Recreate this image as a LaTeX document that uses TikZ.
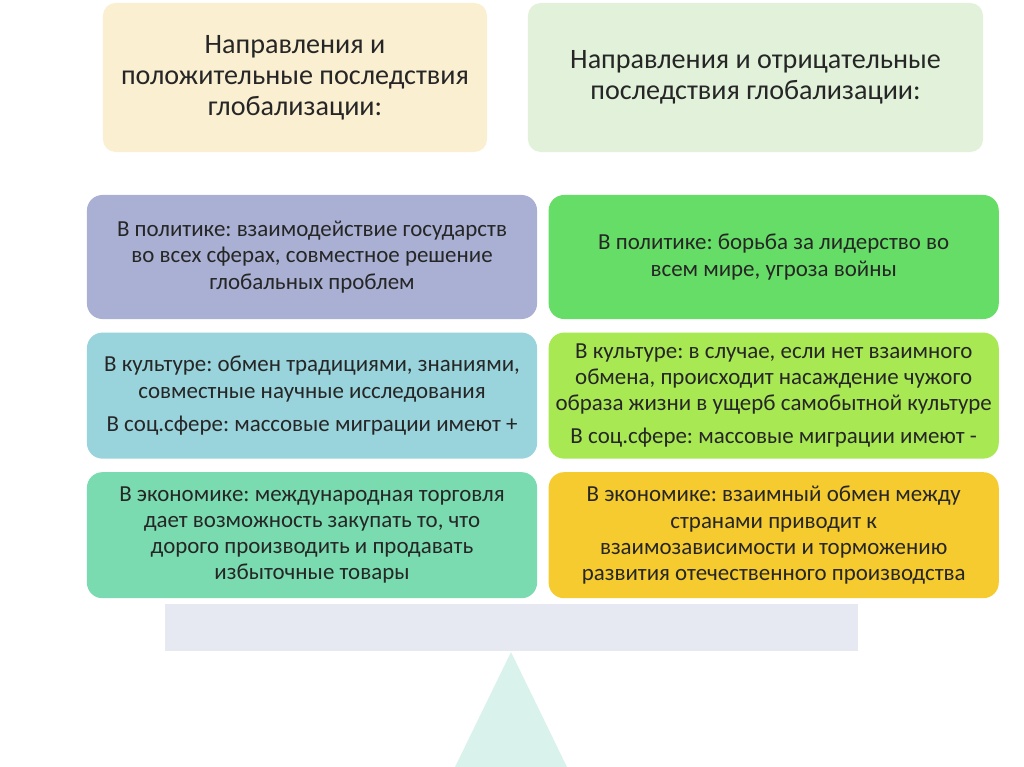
\documentclass[tikz,border=0pt]{standalone}
\usepackage{fontspec}
\setmainfont{Carlito}
\usepackage{tikz}
\usetikzlibrary{positioning}
\usepackage{xcolor}
\definecolor{headPos}{RGB}{250, 239, 208}
\definecolor{headNeg}{RGB}{226, 242, 218}
\definecolor{polPos}{RGB}{169, 176, 211}
\definecolor{polNeg}{RGB}{102, 221, 102}
\definecolor{culPos}{RGB}{153, 211, 219}
\definecolor{culNeg}{RGB}{168, 232, 83}
\definecolor{ecoPos}{RGB}{122, 219, 176}
\definecolor{ecoNeg}{RGB}{246, 203, 47}
\definecolor{beamCol}{RGB}{230, 232, 242}
\definecolor{pivotCol}{RGB}{218, 242, 236}
\definecolor{txt}{RGB}{38, 38, 38}
\frenchspacing

\begin{document}
\begin{tikzpicture}[x=0.025cm, y=-0.025cm,
  head/.style={rounded corners=9pt, align=center, text=txt, inner sep=0pt,
    font=\fontsize{20pt}{22pt}\selectfont, minimum height=3.725cm},
  box/.style={rounded corners=11pt, align=center, text=txt, inner sep=0pt,
    font=\fontsize{16.3pt}{18.6pt}\selectfont, minimum width=11.25cm}]
  \useasboundingbox (0,0) rectangle (1024,767);

  % headers
  \node[head, fill=headPos, minimum width=9.6cm] (headPlus) at (295,77.5)
    {Направления и\\положительные последствия\\глобализации:};
  \node[head, fill=headNeg, minimum width=11.375cm] (headMinus) at (755.5,77.5)
    {Направления и отрицательные\\последствия глобализации:};

  % left column
  \node[box, fill=polPos, minimum height=3.1cm] (polPlus) at (312,257)
    {В политике: взаимодействие государств\\во всех сферах, совместное решение\\глобальных проблем};
  \node[box, fill=culPos, minimum height=3.15cm, below=0.325cm of polPlus] (culPlus)
    {В культуре: обмен традициями, знаниями,\\совместные научные исследования\\[5pt]В соц.сфере: массовые миграции имеют +};
  \node[box, fill=ecoPos, minimum height=3.15cm, below=0.325cm of culPlus] (ecoPlus)
    {В экономике: международная торговля\\дает возможность закупать то, что\\дорого производить и продавать\\избыточные товары};

  % right column
  \node[box, fill=polNeg, minimum height=3.1cm, right=0.275cm of polPlus] (polMinus)
    {В политике: борьба за лидерство во\\всем мире, угроза войны};
  \node[box, fill=culNeg, minimum height=3.15cm, right=0.275cm of culPlus] (culMinus)
    {В культуре: в случае, если нет взаимного\\обмена, происходит насаждение чужого\\образа жизни в ущерб самобытной культуре\\[5pt]В соц.сфере: массовые миграции имеют -};
  \node[box, fill=ecoNeg, minimum height=3.15cm, right=0.275cm of ecoPlus] (ecoMinus)
    {В экономике: взаимный обмен между\\странами приводит к\\взаимозависимости и торможению\\развития отечественного производства};

  % scales
  \fill[beamCol] (165,604) rectangle (858,651);
  \fill[pivotCol] (511,652) -- (567,767) -- (455,767) -- cycle;
\end{tikzpicture}
\end{document}
